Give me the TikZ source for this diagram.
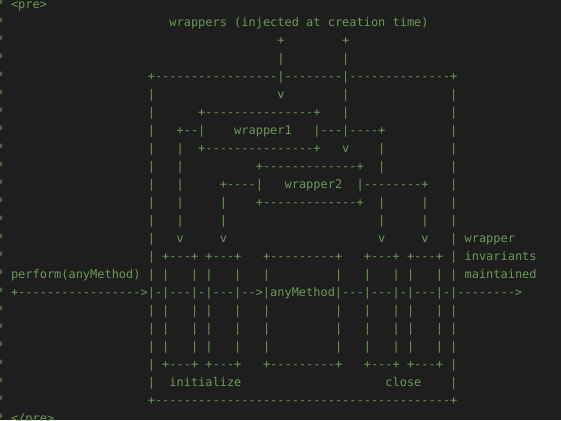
\documentclass[tikz,border=0pt]{standalone}
\usepackage{fontspec}
\setmonofont{DejaVu Sans Mono}
\definecolor{editorbg}{HTML}{1E1E1E}
\definecolor{codegreen}{HTML}{6A9955}
\newlength\cw
\setlength\cw{7.2005pt}
\newcommand\codefont{\ttfamily\fontsize{11.96}{18}\selectfont}
\newcommand\gap[1]{\hspace*{#1\cw}}
\ExplSyntaxOn
\NewDocumentCommand\dashes{m}{\prg_replicate:nn{#1}{-}}
\ExplSyntaxOff
\tikzset{row/.style={anchor=base west,inner sep=0pt,outer sep=0pt,text=codegreen,font=\codefont}}
\begin{document}
\begin{tikzpicture}[x=1pt,y=-1pt]
\fill[editorbg] (0,0) rectangle (561,420);
\useasboundingbox (0,0) rectangle (561,420);
\def\lx{-3.4}
\node[row] (r0) at (\lx,8.8+18*0) {*\gap{1}<pre>};
\node[row] (r1) at (\lx,8.8+18*1) {*\gap{23}wrappers (injected at creation time)};
\node[row] (r2) at (\lx,8.8+18*2) {*\gap{38}+\gap{8}+};
\node[row] (r3) at (\lx,8.8+18*3) {*\gap{38}|\gap{8}|};
\node[row] (r4) at (\lx,8.8+18*4) {*\gap{20}+\dashes{17}|\dashes{8}|\dashes{14}+};
\node[row] (r5) at (\lx,8.8+18*5) {*\gap{20}|\gap{17}v\gap{8}|\gap{14}|};
\node[row] (r6) at (\lx,8.8+18*6) {*\gap{20}|\gap{6}+\dashes{15}+\gap{3}|\gap{14}|};
\node[row] (r7) at (\lx,8.8+18*7) {*\gap{20}|\gap{3}+\dashes{2}|\gap{4}wrapper1\gap{3}|\dashes{3}|\dashes{4}+\gap{9}|};
\node[row] (r8) at (\lx,8.8+18*8) {*\gap{20}|\gap{3}|\gap{2}+\dashes{15}+\gap{3}v\gap{4}|\gap{9}|};
\node[row] (r9) at (\lx,8.8+18*9) {*\gap{20}|\gap{3}|\gap{10}+\dashes{13}+\gap{2}|\gap{9}|};
\node[row] (r10) at (\lx,8.8+18*10) {*\gap{20}|\gap{3}|\gap{5}+\dashes{4}|\gap{3}wrapper2\gap{2}|\dashes{8}+\gap{3}|};
\node[row] (r11) at (\lx,8.8+18*11) {*\gap{20}|\gap{3}|\gap{5}|\gap{4}+\dashes{13}+\gap{2}|\gap{5}|\gap{3}|};
\node[row] (r12) at (\lx,8.8+18*12) {*\gap{20}|\gap{3}|\gap{5}|\gap{21}|\gap{5}|\gap{3}|};
\node[row] (r13) at (\lx,8.8+18*13) {*\gap{20}|\gap{3}v\gap{5}v\gap{21}v\gap{5}v\gap{3}|\gap{1}wrapper};
\node[row] (r14) at (\lx,8.8+18*14) {*\gap{20}|\gap{1}+\dashes{3}+\gap{1}+\dashes{3}+\gap{3}+\dashes{9}+\gap{3}+\dashes{3}+\gap{1}+\dashes{3}+\gap{1}|\gap{1}invariants};
\node[row] (r15) at (\lx,8.8+18*15) {*\gap{1}perform(anyMethod)\gap{1}|\gap{1}|\gap{3}|\gap{1}|\gap{3}|\gap{3}|\gap{9}|\gap{3}|\gap{3}|\gap{1}|\gap{3}|\gap{1}|\gap{1}maintained};
\node[row] (r16) at (\lx,8.8+18*16) {*\gap{1}+\dashes{17}>|-|\dashes{3}|-|\dashes{3}|\dashes{2}>|anyMethod|\dashes{3}|\dashes{3}|-|\dashes{3}|-|\dashes{8}>};
\foreach \i in {17,18,19}
  \node[row] (r\i) at (\lx,8.8+18*\i) {*\gap{20}|\gap{1}|\gap{3}|\gap{1}|\gap{3}|\gap{3}|\gap{9}|\gap{3}|\gap{3}|\gap{1}|\gap{3}|\gap{1}|};
\node[row] (r20) at (\lx,8.8+18*20) {*\gap{20}|\gap{1}+\dashes{3}+\gap{1}+\dashes{3}+\gap{3}+\dashes{9}+\gap{3}+\dashes{3}+\gap{1}+\dashes{3}+\gap{1}|};
\node[row] (r21) at (\lx,8.8+18*21) {*\gap{20}|\gap{2}initialize\gap{20}close\gap{4}|};
\node[row] (r22) at (\lx,8.8+18*22) {*\gap{20}+\dashes{41}+};
\node[row] (r23) at (\lx,8.8+18*23) {*\gap{1}</pre>};
\end{tikzpicture}
\end{document}
